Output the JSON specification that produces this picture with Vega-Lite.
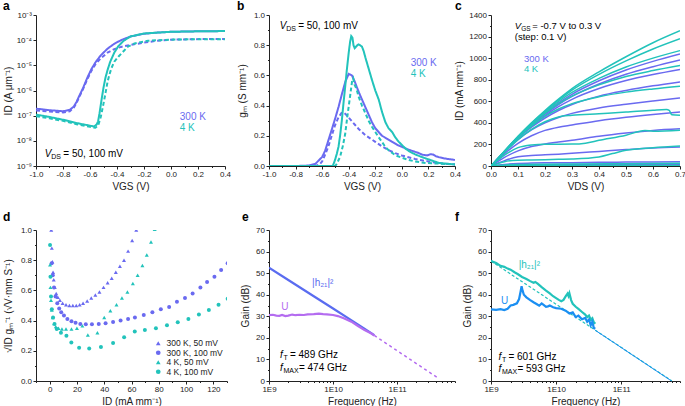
{
"$schema": "https://vega.github.io/schema/vega-lite/v6.json",
"background": "white",
"padding": {"left": 3, "top": 0, "right": 5, "bottom": 5},
"config": {
  "view": {"stroke": null},
  "font": "Liberation Sans",
  "axis": {"labelFont": "Liberation Sans", "labelFontSize": 8, "labelColor": "#222", "titleFont": "Liberation Sans", "titleFontSize": 10, "titleFontWeight": "normal", "titleColor": "#222", "domainColor": "#222", "tickColor": "#222", "grid": false, "labelFlush": false, "labelOverlap": false, "labelPadding": 1.5, "tickSize": 3, "titlePadding": 3},
  "title": {"font": "Liberation Sans", "fontSize": 12, "fontWeight": "bold", "anchor": "start", "frame": "group", "offset": -2, "color": "black"},
  "text": {"font": "Liberation Sans", "fontSize": 10, "align": "left", "baseline": "middle"}
},
"datasets": {
  "a": [
    {"t":"300 K","d":"100","v":-1,"i":1.9e-7},{"t":"300 K","d":"100","v":-0.9,"i":1.65e-7},{"t":"300 K","d":"100","v":-0.8,"i":1.5e-7},{"t":"300 K","d":"100","v":-0.75,"i":1.7e-7},{"t":"300 K","d":"100","v":-0.72,"i":2.3e-7},{"t":"300 K","d":"100","v":-0.7,"i":3.5e-7},{"t":"300 K","d":"100","v":-0.68,"i":6e-7},{"t":"300 K","d":"100","v":-0.65,"i":1.3e-6},{"t":"300 K","d":"100","v":-0.62,"i":3.2e-6},{"t":"300 K","d":"100","v":-0.59,"i":7e-6},{"t":"300 K","d":"100","v":-0.56,"i":1.3e-5},{"t":"300 K","d":"100","v":-0.52,"i":2.5e-5},{"t":"300 K","d":"100","v":-0.47,"i":4.6e-5},{"t":"300 K","d":"100","v":-0.42,"i":7.2e-5},{"t":"300 K","d":"100","v":-0.37,"i":1.0e-4},{"t":"300 K","d":"100","v":-0.3,"i":1.4e-4},{"t":"300 K","d":"100","v":-0.2,"i":1.8e-4},{"t":"300 K","d":"100","v":-0.1,"i":2.0e-4},{"t":"300 K","d":"100","v":0,"i":2.15e-4},{"t":"300 K","d":"100","v":0.2,"i":2.25e-4},{"t":"300 K","d":"100","v":0.4,"i":2.3e-4},
    {"t":"300 K","d":"50","v":-1,"i":1.6e-7},{"t":"300 K","d":"50","v":-0.9,"i":1.45e-7},{"t":"300 K","d":"50","v":-0.8,"i":1.35e-7},{"t":"300 K","d":"50","v":-0.75,"i":1.5e-7},{"t":"300 K","d":"50","v":-0.72,"i":2.1e-7},{"t":"300 K","d":"50","v":-0.7,"i":3.2e-7},{"t":"300 K","d":"50","v":-0.68,"i":5.5e-7},{"t":"300 K","d":"50","v":-0.65,"i":1.2e-6},{"t":"300 K","d":"50","v":-0.62,"i":2.8e-6},{"t":"300 K","d":"50","v":-0.59,"i":6e-6},{"t":"300 K","d":"50","v":-0.56,"i":1.1e-5},{"t":"300 K","d":"50","v":-0.52,"i":1.9e-5},{"t":"300 K","d":"50","v":-0.47,"i":3.2e-5},{"t":"300 K","d":"50","v":-0.42,"i":4.4e-5},{"t":"300 K","d":"50","v":-0.37,"i":5.4e-5},{"t":"300 K","d":"50","v":-0.3,"i":6.5e-5},{"t":"300 K","d":"50","v":-0.2,"i":8e-5},{"t":"300 K","d":"50","v":-0.1,"i":9.5e-5},{"t":"300 K","d":"50","v":0,"i":1.05e-4},{"t":"300 K","d":"50","v":0.2,"i":1.1e-4},{"t":"300 K","d":"50","v":0.4,"i":1.12e-4},
    {"t":"4 K","d":"100","v":-1,"i":1.1e-7},{"t":"4 K","d":"100","v":-0.9,"i":8.9e-8},{"t":"4 K","d":"100","v":-0.8,"i":6.9e-8},{"t":"4 K","d":"100","v":-0.7,"i":5.1e-8},{"t":"4 K","d":"100","v":-0.6,"i":4.0e-8},{"t":"4 K","d":"100","v":-0.57,"i":3.7e-8},{"t":"4 K","d":"100","v":-0.55,"i":4.5e-8},{"t":"4 K","d":"100","v":-0.54,"i":6e-8},{"t":"4 K","d":"100","v":-0.53,"i":1.2e-7},{"t":"4 K","d":"100","v":-0.515,"i":4.1e-7},{"t":"4 K","d":"100","v":-0.5,"i":1.3e-6},{"t":"4 K","d":"100","v":-0.485,"i":3.3e-6},{"t":"4 K","d":"100","v":-0.47,"i":6.5e-6},{"t":"4 K","d":"100","v":-0.45,"i":1.4e-5},{"t":"4 K","d":"100","v":-0.42,"i":3.2e-5},{"t":"4 K","d":"100","v":-0.39,"i":5.8e-5},{"t":"4 K","d":"100","v":-0.35,"i":9.5e-5},{"t":"4 K","d":"100","v":-0.3,"i":1.4e-4},{"t":"4 K","d":"100","v":-0.2,"i":1.85e-4},{"t":"4 K","d":"100","v":-0.1,"i":2.0e-4},{"t":"4 K","d":"100","v":0,"i":2.15e-4},{"t":"4 K","d":"100","v":0.2,"i":2.25e-4},{"t":"4 K","d":"100","v":0.4,"i":2.3e-4},
    {"t":"4 K","d":"50","v":-1,"i":9.5e-8},{"t":"4 K","d":"50","v":-0.9,"i":7.8e-8},{"t":"4 K","d":"50","v":-0.8,"i":6.2e-8},{"t":"4 K","d":"50","v":-0.7,"i":4.6e-8},{"t":"4 K","d":"50","v":-0.6,"i":3.6e-8},{"t":"4 K","d":"50","v":-0.56,"i":3.3e-8},{"t":"4 K","d":"50","v":-0.54,"i":4e-8},{"t":"4 K","d":"50","v":-0.52,"i":9e-8},{"t":"4 K","d":"50","v":-0.5,"i":3e-7},{"t":"4 K","d":"50","v":-0.485,"i":8e-7},{"t":"4 K","d":"50","v":-0.47,"i":2.2e-6},{"t":"4 K","d":"50","v":-0.455,"i":4.5e-6},{"t":"4 K","d":"50","v":-0.44,"i":8e-6},{"t":"4 K","d":"50","v":-0.42,"i":1.4e-5},{"t":"4 K","d":"50","v":-0.39,"i":2.2e-5},{"t":"4 K","d":"50","v":-0.35,"i":3.7e-5},{"t":"4 K","d":"50","v":-0.32,"i":5.5e-5},{"t":"4 K","d":"50","v":-0.27,"i":7.4e-5},{"t":"4 K","d":"50","v":-0.17,"i":9.5e-5},{"t":"4 K","d":"50","v":0,"i":1.05e-4},{"t":"4 K","d":"50","v":0.2,"i":1.09e-4},{"t":"4 K","d":"50","v":0.4,"i":1.1e-4}
  ],
  "b": [
    {"t":"300 K","d":"100","v":-1,"g":0},{"t":"300 K","d":"100","v":-0.8,"g":0},{"t":"300 K","d":"100","v":-0.7,"g":0.003},{"t":"300 K","d":"100","v":-0.65,"g":0.015},{"t":"300 K","d":"100","v":-0.6,"g":0.06},{"t":"300 K","d":"100","v":-0.578,"g":0.1},{"t":"300 K","d":"100","v":-0.553,"g":0.17},{"t":"300 K","d":"100","v":-0.528,"g":0.24},{"t":"300 K","d":"100","v":-0.5,"g":0.32},{"t":"300 K","d":"100","v":-0.477,"g":0.39},{"t":"300 K","d":"100","v":-0.45,"g":0.48},{"t":"300 K","d":"100","v":-0.425,"g":0.56},{"t":"300 K","d":"100","v":-0.4,"g":0.61},{"t":"300 K","d":"100","v":-0.376,"g":0.6},{"t":"300 K","d":"100","v":-0.355,"g":0.56},{"t":"300 K","d":"100","v":-0.338,"g":0.52},{"t":"300 K","d":"100","v":-0.32,"g":0.48},{"t":"300 K","d":"100","v":-0.3,"g":0.44},{"t":"300 K","d":"100","v":-0.275,"g":0.39},{"t":"300 K","d":"100","v":-0.25,"g":0.34},{"t":"300 K","d":"100","v":-0.225,"g":0.29},{"t":"300 K","d":"100","v":-0.2,"g":0.25},{"t":"300 K","d":"100","v":-0.17,"g":0.22},{"t":"300 K","d":"100","v":-0.149,"g":0.2},{"t":"300 K","d":"100","v":-0.11,"g":0.18},{"t":"300 K","d":"100","v":-0.073,"g":0.16},{"t":"300 K","d":"100","v":-0.035,"g":0.14},{"t":"300 K","d":"100","v":0.003,"g":0.126},{"t":"300 K","d":"100","v":0.04,"g":0.112},{"t":"300 K","d":"100","v":0.078,"g":0.1},{"t":"300 K","d":"100","v":0.12,"g":0.088},{"t":"300 K","d":"100","v":0.154,"g":0.075},{"t":"300 K","d":"100","v":0.19,"g":0.07},{"t":"300 K","d":"100","v":0.215,"g":0.078},{"t":"300 K","d":"100","v":0.235,"g":0.076},{"t":"300 K","d":"100","v":0.255,"g":0.065},{"t":"300 K","d":"100","v":0.28,"g":0.058},{"t":"300 K","d":"100","v":0.32,"g":0.05},{"t":"300 K","d":"100","v":0.36,"g":0.045},{"t":"300 K","d":"100","v":0.4,"g":0.04},
    {"t":"300 K","d":"50","v":-1,"g":0},{"t":"300 K","d":"50","v":-0.65,"g":0},{"t":"300 K","d":"50","v":-0.62,"g":0.01},{"t":"300 K","d":"50","v":-0.6,"g":0.03},{"t":"300 K","d":"50","v":-0.58,"g":0.07},{"t":"300 K","d":"50","v":-0.553,"g":0.13},{"t":"300 K","d":"50","v":-0.528,"g":0.2},{"t":"300 K","d":"50","v":-0.503,"g":0.27},{"t":"300 K","d":"50","v":-0.478,"g":0.32},{"t":"300 K","d":"50","v":-0.455,"g":0.35},{"t":"300 K","d":"50","v":-0.44,"g":0.355},{"t":"300 K","d":"50","v":-0.425,"g":0.345},{"t":"300 K","d":"50","v":-0.4,"g":0.32},{"t":"300 K","d":"50","v":-0.375,"g":0.295},{"t":"300 K","d":"50","v":-0.35,"g":0.27},{"t":"300 K","d":"50","v":-0.325,"g":0.245},{"t":"300 K","d":"50","v":-0.3,"g":0.225},{"t":"300 K","d":"50","v":-0.275,"g":0.205},{"t":"300 K","d":"50","v":-0.25,"g":0.19},{"t":"300 K","d":"50","v":-0.2,"g":0.16},{"t":"300 K","d":"50","v":-0.15,"g":0.13},{"t":"300 K","d":"50","v":-0.1,"g":0.105},{"t":"300 K","d":"50","v":-0.05,"g":0.085},{"t":"300 K","d":"50","v":0,"g":0.07},{"t":"300 K","d":"50","v":0.05,"g":0.058},{"t":"300 K","d":"50","v":0.1,"g":0.047},{"t":"300 K","d":"50","v":0.15,"g":0.038},{"t":"300 K","d":"50","v":0.2,"g":0.03},{"t":"300 K","d":"50","v":0.25,"g":0.023},{"t":"300 K","d":"50","v":0.3,"g":0.018},{"t":"300 K","d":"50","v":0.35,"g":0.014},{"t":"300 K","d":"50","v":0.4,"g":0.011},
    {"t":"4 K","d":"100","v":-1,"g":0},{"t":"4 K","d":"100","v":-0.52,"g":0},{"t":"4 K","d":"100","v":-0.503,"g":0.04},{"t":"4 K","d":"100","v":-0.49,"g":0.08},{"t":"4 K","d":"100","v":-0.477,"g":0.126},{"t":"4 K","d":"100","v":-0.465,"g":0.2},{"t":"4 K","d":"100","v":-0.452,"g":0.3},{"t":"4 K","d":"100","v":-0.44,"g":0.41},{"t":"4 K","d":"100","v":-0.427,"g":0.52},{"t":"4 K","d":"100","v":-0.415,"g":0.63},{"t":"4 K","d":"100","v":-0.4,"g":0.75},{"t":"4 K","d":"100","v":-0.39,"g":0.82},{"t":"4 K","d":"100","v":-0.381,"g":0.86},{"t":"4 K","d":"100","v":-0.372,"g":0.85},{"t":"4 K","d":"100","v":-0.364,"g":0.8},{"t":"4 K","d":"100","v":-0.355,"g":0.78},{"t":"4 K","d":"100","v":-0.345,"g":0.79},{"t":"4 K","d":"100","v":-0.335,"g":0.8},{"t":"4 K","d":"100","v":-0.326,"g":0.805},{"t":"4 K","d":"100","v":-0.315,"g":0.8},{"t":"4 K","d":"100","v":-0.3,"g":0.79},{"t":"4 K","d":"100","v":-0.287,"g":0.76},{"t":"4 K","d":"100","v":-0.275,"g":0.72},{"t":"4 K","d":"100","v":-0.25,"g":0.645},{"t":"4 K","d":"100","v":-0.225,"g":0.57},{"t":"4 K","d":"100","v":-0.2,"g":0.5},{"t":"4 K","d":"100","v":-0.174,"g":0.44},{"t":"4 K","d":"100","v":-0.15,"g":0.36},{"t":"4 K","d":"100","v":-0.124,"g":0.29},{"t":"4 K","d":"100","v":-0.1,"g":0.25},{"t":"4 K","d":"100","v":-0.073,"g":0.225},{"t":"4 K","d":"100","v":-0.05,"g":0.19},{"t":"4 K","d":"100","v":-0.023,"g":0.16},{"t":"4 K","d":"100","v":0.028,"g":0.115},{"t":"4 K","d":"100","v":0.06,"g":0.095},{"t":"4 K","d":"100","v":0.1,"g":0.077},{"t":"4 K","d":"100","v":0.14,"g":0.063},{"t":"4 K","d":"100","v":0.18,"g":0.05},{"t":"4 K","d":"100","v":0.23,"g":0.035},{"t":"4 K","d":"100","v":0.28,"g":0.02},{"t":"4 K","d":"100","v":0.34,"g":0.015},{"t":"4 K","d":"100","v":0.4,"g":0.01},
    {"t":"4 K","d":"50","v":-1,"g":0},{"t":"4 K","d":"50","v":-0.5,"g":0},{"t":"4 K","d":"50","v":-0.49,"g":0.015},{"t":"4 K","d":"50","v":-0.465,"g":0.06},{"t":"4 K","d":"50","v":-0.445,"g":0.13},{"t":"4 K","d":"50","v":-0.427,"g":0.21},{"t":"4 K","d":"50","v":-0.41,"g":0.33},{"t":"4 K","d":"50","v":-0.39,"g":0.46},{"t":"4 K","d":"50","v":-0.375,"g":0.56},{"t":"4 K","d":"50","v":-0.366,"g":0.58},{"t":"4 K","d":"50","v":-0.357,"g":0.54},{"t":"4 K","d":"50","v":-0.346,"g":0.52},{"t":"4 K","d":"50","v":-0.335,"g":0.49},{"t":"4 K","d":"50","v":-0.326,"g":0.46},{"t":"4 K","d":"50","v":-0.3,"g":0.4},{"t":"4 K","d":"50","v":-0.275,"g":0.35},{"t":"4 K","d":"50","v":-0.25,"g":0.3},{"t":"4 K","d":"50","v":-0.225,"g":0.26},{"t":"4 K","d":"50","v":-0.2,"g":0.225},{"t":"4 K","d":"50","v":-0.174,"g":0.19},{"t":"4 K","d":"50","v":-0.15,"g":0.16},{"t":"4 K","d":"50","v":-0.124,"g":0.126},{"t":"4 K","d":"50","v":-0.1,"g":0.105},{"t":"4 K","d":"50","v":-0.048,"g":0.07},{"t":"4 K","d":"50","v":0,"g":0.055},{"t":"4 K","d":"50","v":0.053,"g":0.04},{"t":"4 K","d":"50","v":0.1,"g":0.03},{"t":"4 K","d":"50","v":0.18,"g":0.02},{"t":"4 K","d":"50","v":0.3,"g":0.015},{"t":"4 K","d":"50","v":0.4,"g":0.01}
  ],
  "c": [
    {"s":"B3","t":"300 K","x":0,"y":0},{"s":"B3","t":"300 K","x":0.05,"y":135},{"s":"B3","t":"300 K","x":0.1,"y":268},{"s":"B3","t":"300 K","x":0.15,"y":385},{"s":"B3","t":"300 K","x":0.2,"y":490},{"s":"B3","t":"300 K","x":0.25,"y":585},{"s":"B3","t":"300 K","x":0.3,"y":665},{"s":"B3","t":"300 K","x":0.4,"y":790},{"s":"B3","t":"300 K","x":0.5,"y":890},{"s":"B3","t":"300 K","x":0.6,"y":970},{"s":"B3","t":"300 K","x":0.7,"y":1038},
    {"s":"B2","t":"300 K","x":0,"y":0},{"s":"B2","t":"300 K","x":0.05,"y":134},{"s":"B2","t":"300 K","x":0.1,"y":265},{"s":"B2","t":"300 K","x":0.15,"y":380},{"s":"B2","t":"300 K","x":0.2,"y":480},{"s":"B2","t":"300 K","x":0.25,"y":570},{"s":"B2","t":"300 K","x":0.3,"y":645},{"s":"B2","t":"300 K","x":0.4,"y":760},{"s":"B2","t":"300 K","x":0.5,"y":850},{"s":"B2","t":"300 K","x":0.6,"y":920},{"s":"B2","t":"300 K","x":0.7,"y":982},
    {"s":"B1","t":"300 K","x":0,"y":0},{"s":"B1","t":"300 K","x":0.05,"y":133},{"s":"B1","t":"300 K","x":0.1,"y":262},{"s":"B1","t":"300 K","x":0.15,"y":372},{"s":"B1","t":"300 K","x":0.2,"y":468},{"s":"B1","t":"300 K","x":0.25,"y":550},{"s":"B1","t":"300 K","x":0.3,"y":618},{"s":"B1","t":"300 K","x":0.4,"y":718},{"s":"B1","t":"300 K","x":0.5,"y":792},{"s":"B1","t":"300 K","x":0.6,"y":848},{"s":"B1","t":"300 K","x":0.7,"y":895},
    {"s":"B0","t":"300 K","x":0,"y":0},{"s":"B0","t":"300 K","x":0.05,"y":132},{"s":"B0","t":"300 K","x":0.1,"y":257},{"s":"B0","t":"300 K","x":0.15,"y":360},{"s":"B0","t":"300 K","x":0.2,"y":445},{"s":"B0","t":"300 K","x":0.25,"y":515},{"s":"B0","t":"300 K","x":0.3,"y":570},{"s":"B0","t":"300 K","x":0.4,"y":648},{"s":"B0","t":"300 K","x":0.5,"y":700},{"s":"B0","t":"300 K","x":0.6,"y":743},{"s":"B0","t":"300 K","x":0.7,"y":780},
    {"s":"Bm1","t":"300 K","x":0,"y":0},{"s":"Bm1","t":"300 K","x":0.05,"y":128},{"s":"Bm1","t":"300 K","x":0.1,"y":245},{"s":"Bm1","t":"300 K","x":0.15,"y":335},{"s":"Bm1","t":"300 K","x":0.2,"y":400},{"s":"Bm1","t":"300 K","x":0.25,"y":450},{"s":"Bm1","t":"300 K","x":0.3,"y":488},{"s":"Bm1","t":"300 K","x":0.4,"y":538},{"s":"Bm1","t":"300 K","x":0.5,"y":572},{"s":"Bm1","t":"300 K","x":0.6,"y":602},{"s":"Bm1","t":"300 K","x":0.7,"y":630},
    {"s":"Bm2","t":"300 K","x":0,"y":0},{"s":"Bm2","t":"300 K","x":0.05,"y":115},{"s":"Bm2","t":"300 K","x":0.1,"y":210},{"s":"Bm2","t":"300 K","x":0.15,"y":280},{"s":"Bm2","t":"300 K","x":0.2,"y":330},{"s":"Bm2","t":"300 K","x":0.25,"y":360},{"s":"Bm2","t":"300 K","x":0.3,"y":380},{"s":"Bm2","t":"300 K","x":0.4,"y":420},{"s":"Bm2","t":"300 K","x":0.5,"y":452},{"s":"Bm2","t":"300 K","x":0.6,"y":478},{"s":"Bm2","t":"300 K","x":0.7,"y":500},
    {"s":"Bm3","t":"300 K","x":0,"y":0},{"s":"Bm3","t":"300 K","x":0.05,"y":80},{"s":"Bm3","t":"300 K","x":0.1,"y":140},{"s":"Bm3","t":"300 K","x":0.15,"y":180},{"s":"Bm3","t":"300 K","x":0.2,"y":205},{"s":"Bm3","t":"300 K","x":0.25,"y":222},{"s":"Bm3","t":"300 K","x":0.3,"y":238},{"s":"Bm3","t":"300 K","x":0.4,"y":275},{"s":"Bm3","t":"300 K","x":0.5,"y":305},{"s":"Bm3","t":"300 K","x":0.6,"y":330},{"s":"Bm3","t":"300 K","x":0.7,"y":345},
    {"s":"Bm4","t":"300 K","x":0,"y":0},{"s":"Bm4","t":"300 K","x":0.05,"y":50},{"s":"Bm4","t":"300 K","x":0.1,"y":85},{"s":"Bm4","t":"300 K","x":0.15,"y":97},{"s":"Bm4","t":"300 K","x":0.2,"y":104},{"s":"Bm4","t":"300 K","x":0.25,"y":110},{"s":"Bm4","t":"300 K","x":0.3,"y":118},{"s":"Bm4","t":"300 K","x":0.4,"y":135},{"s":"Bm4","t":"300 K","x":0.5,"y":152},{"s":"Bm4","t":"300 K","x":0.6,"y":167},{"s":"Bm4","t":"300 K","x":0.7,"y":177},
    {"s":"Bm5","t":"300 K","x":0,"y":0},{"s":"Bm5","t":"300 K","x":0.05,"y":15},{"s":"Bm5","t":"300 K","x":0.1,"y":24},{"s":"Bm5","t":"300 K","x":0.15,"y":27},{"s":"Bm5","t":"300 K","x":0.2,"y":29},{"s":"Bm5","t":"300 K","x":0.25,"y":30},{"s":"Bm5","t":"300 K","x":0.3,"y":31},{"s":"Bm5","t":"300 K","x":0.4,"y":34},{"s":"Bm5","t":"300 K","x":0.5,"y":36},{"s":"Bm5","t":"300 K","x":0.6,"y":38},{"s":"Bm5","t":"300 K","x":0.7,"y":40},
    {"s":"Bm6","t":"300 K","x":0,"y":0},{"s":"Bm6","t":"300 K","x":0.05,"y":5},{"s":"Bm6","t":"300 K","x":0.1,"y":8},{"s":"Bm6","t":"300 K","x":0.2,"y":10},{"s":"Bm6","t":"300 K","x":0.4,"y":11},{"s":"Bm6","t":"300 K","x":0.7,"y":13},
    {"s":"Bm7","t":"300 K","x":0,"y":0},{"s":"Bm7","t":"300 K","x":0.1,"y":2},{"s":"Bm7","t":"300 K","x":0.3,"y":3},{"s":"Bm7","t":"300 K","x":0.7,"y":4},
    {"s":"T3","t":"4 K","x":0,"y":0},{"s":"T3","t":"4 K","x":0.05,"y":138},{"s":"T3","t":"4 K","x":0.1,"y":275},{"s":"T3","t":"4 K","x":0.15,"y":400},{"s":"T3","t":"4 K","x":0.2,"y":515},{"s":"T3","t":"4 K","x":0.25,"y":620},{"s":"T3","t":"4 K","x":0.3,"y":718},{"s":"T3","t":"4 K","x":0.4,"y":873},{"s":"T3","t":"4 K","x":0.5,"y":1013},{"s":"T3","t":"4 K","x":0.6,"y":1143},{"s":"T3","t":"4 K","x":0.7,"y":1254},
    {"s":"T2","t":"4 K","x":0,"y":0},{"s":"T2","t":"4 K","x":0.05,"y":137},{"s":"T2","t":"4 K","x":0.1,"y":272},{"s":"T2","t":"4 K","x":0.15,"y":395},{"s":"T2","t":"4 K","x":0.2,"y":508},{"s":"T2","t":"4 K","x":0.25,"y":610},{"s":"T2","t":"4 K","x":0.3,"y":703},{"s":"T2","t":"4 K","x":0.4,"y":850},{"s":"T2","t":"4 K","x":0.5,"y":975},{"s":"T2","t":"4 K","x":0.6,"y":1085},{"s":"T2","t":"4 K","x":0.7,"y":1180},
    {"s":"T1","t":"4 K","x":0,"y":0},{"s":"T1","t":"4 K","x":0.05,"y":136},{"s":"T1","t":"4 K","x":0.1,"y":270},{"s":"T1","t":"4 K","x":0.15,"y":390},{"s":"T1","t":"4 K","x":0.2,"y":500},{"s":"T1","t":"4 K","x":0.25,"y":598},{"s":"T1","t":"4 K","x":0.3,"y":682},{"s":"T1","t":"4 K","x":0.4,"y":812},{"s":"T1","t":"4 K","x":0.5,"y":918},{"s":"T1","t":"4 K","x":0.6,"y":1000},{"s":"T1","t":"4 K","x":0.7,"y":1070},
    {"s":"T0","t":"4 K","x":0,"y":0},{"s":"T0","t":"4 K","x":0.05,"y":135},{"s":"T0","t":"4 K","x":0.1,"y":267},{"s":"T0","t":"4 K","x":0.15,"y":383},{"s":"T0","t":"4 K","x":0.2,"y":488},{"s":"T0","t":"4 K","x":0.25,"y":577},{"s":"T0","t":"4 K","x":0.3,"y":648},{"s":"T0","t":"4 K","x":0.4,"y":752},{"s":"T0","t":"4 K","x":0.5,"y":830},{"s":"T0","t":"4 K","x":0.6,"y":885},{"s":"T0","t":"4 K","x":0.7,"y":932},
    {"s":"Tm1","t":"4 K","x":0,"y":0},{"s":"Tm1","t":"4 K","x":0.05,"y":133},{"s":"Tm1","t":"4 K","x":0.1,"y":262},{"s":"Tm1","t":"4 K","x":0.15,"y":370},{"s":"Tm1","t":"4 K","x":0.2,"y":460},{"s":"Tm1","t":"4 K","x":0.25,"y":528},{"s":"Tm1","t":"4 K","x":0.3,"y":578},{"s":"Tm1","t":"4 K","x":0.4,"y":642},{"s":"Tm1","t":"4 K","x":0.5,"y":685},{"s":"Tm1","t":"4 K","x":0.6,"y":715},{"s":"Tm1","t":"4 K","x":0.7,"y":740},
    {"s":"Tm2","t":"4 K","x":0,"y":0},{"s":"Tm2","t":"4 K","x":0.05,"y":128},{"s":"Tm2","t":"4 K","x":0.1,"y":245},{"s":"Tm2","t":"4 K","x":0.15,"y":340},{"s":"Tm2","t":"4 K","x":0.2,"y":410},{"s":"Tm2","t":"4 K","x":0.25,"y":455},{"s":"Tm2","t":"4 K","x":0.3,"y":470},{"s":"Tm2","t":"4 K","x":0.4,"y":485},{"s":"Tm2","t":"4 K","x":0.5,"y":500},{"s":"Tm2","t":"4 K","x":0.6,"y":517},{"s":"Tm2","t":"4 K","x":0.65,"y":523},{"s":"Tm2","t":"4 K","x":0.66,"y":515},{"s":"Tm2","t":"4 K","x":0.67,"y":475},{"s":"Tm2","t":"4 K","x":0.7,"y":470},
    {"s":"Tm3","t":"4 K","x":0,"y":0},{"s":"Tm3","t":"4 K","x":0.05,"y":100},{"s":"Tm3","t":"4 K","x":0.1,"y":170},{"s":"Tm3","t":"4 K","x":0.15,"y":195},{"s":"Tm3","t":"4 K","x":0.2,"y":202},{"s":"Tm3","t":"4 K","x":0.25,"y":202},{"s":"Tm3","t":"4 K","x":0.3,"y":203},{"s":"Tm3","t":"4 K","x":0.35,"y":212},{"s":"Tm3","t":"4 K","x":0.4,"y":238},{"s":"Tm3","t":"4 K","x":0.5,"y":285},{"s":"Tm3","t":"4 K","x":0.57,"y":330},{"s":"Tm3","t":"4 K","x":0.6,"y":322},{"s":"Tm3","t":"4 K","x":0.7,"y":332},
    {"s":"Tm4","t":"4 K","x":0,"y":0},{"s":"Tm4","t":"4 K","x":0.05,"y":40},{"s":"Tm4","t":"4 K","x":0.1,"y":53},{"s":"Tm4","t":"4 K","x":0.15,"y":56},{"s":"Tm4","t":"4 K","x":0.2,"y":59},{"s":"Tm4","t":"4 K","x":0.25,"y":62},{"s":"Tm4","t":"4 K","x":0.3,"y":65},{"s":"Tm4","t":"4 K","x":0.4,"y":84},{"s":"Tm4","t":"4 K","x":0.45,"y":115},{"s":"Tm4","t":"4 K","x":0.5,"y":146},{"s":"Tm4","t":"4 K","x":0.6,"y":170},{"s":"Tm4","t":"4 K","x":0.7,"y":186},
    {"s":"Tm5","t":"4 K","x":0,"y":0},{"s":"Tm5","t":"4 K","x":0.05,"y":10},{"s":"Tm5","t":"4 K","x":0.1,"y":14},{"s":"Tm5","t":"4 K","x":0.2,"y":17},{"s":"Tm5","t":"4 K","x":0.3,"y":19},{"s":"Tm5","t":"4 K","x":0.5,"y":22},{"s":"Tm5","t":"4 K","x":0.7,"y":25},
    {"s":"Tm6","t":"4 K","x":0,"y":0},{"s":"Tm6","t":"4 K","x":0.1,"y":3},{"s":"Tm6","t":"4 K","x":0.4,"y":4},{"s":"Tm6","t":"4 K","x":0.7,"y":5},
    {"s":"Tm7","t":"4 K","x":0,"y":0},{"s":"Tm7","t":"4 K","x":0.2,"y":0.5},{"s":"Tm7","t":"4 K","x":0.7,"y":1}
  ],
  "d": [
    {"s":"300 K, 50 mV","x":1.2,"y":1.0},{"s":"300 K, 50 mV","x":1.6,"y":0.88},{"s":"300 K, 50 mV","x":2.0,"y":0.79},{"s":"300 K, 50 mV","x":2.5,"y":0.72},{"s":"300 K, 50 mV","x":3.0,"y":0.67},{"s":"300 K, 50 mV","x":3.8,"y":0.62},{"s":"300 K, 50 mV","x":4.8,"y":0.58},{"s":"300 K, 50 mV","x":6,"y":0.555},{"s":"300 K, 50 mV","x":7.5,"y":0.535},{"s":"300 K, 50 mV","x":9.5,"y":0.515},{"s":"300 K, 50 mV","x":12,"y":0.505},{"s":"300 K, 50 mV","x":14.5,"y":0.5},{"s":"300 K, 50 mV","x":17,"y":0.5},{"s":"300 K, 50 mV","x":19.5,"y":0.5},{"s":"300 K, 50 mV","x":22,"y":0.505},{"s":"300 K, 50 mV","x":24.5,"y":0.515},{"s":"300 K, 50 mV","x":27.5,"y":0.53},{"s":"300 K, 50 mV","x":30.5,"y":0.55},{"s":"300 K, 50 mV","x":33.5,"y":0.57},{"s":"300 K, 50 mV","x":36.5,"y":0.59},{"s":"300 K, 50 mV","x":39.5,"y":0.62},{"s":"300 K, 50 mV","x":42.5,"y":0.65},{"s":"300 K, 50 mV","x":45.5,"y":0.68},{"s":"300 K, 50 mV","x":48.5,"y":0.72},{"s":"300 K, 50 mV","x":51.5,"y":0.76},{"s":"300 K, 50 mV","x":54.5,"y":0.8},{"s":"300 K, 50 mV","x":57.5,"y":0.86},{"s":"300 K, 50 mV","x":60.5,"y":0.93},{"s":"300 K, 50 mV","x":63.5,"y":1.0},
    {"s":"300 K, 100 mV","x":1.5,"y":0.78},{"s":"300 K, 100 mV","x":2.3,"y":0.7},{"s":"300 K, 100 mV","x":3.2,"y":0.62},{"s":"300 K, 100 mV","x":4.3,"y":0.56},{"s":"300 K, 100 mV","x":5.6,"y":0.515},{"s":"300 K, 100 mV","x":7,"y":0.48},{"s":"300 K, 100 mV","x":8.5,"y":0.455},{"s":"300 K, 100 mV","x":10.5,"y":0.433},{"s":"300 K, 100 mV","x":13,"y":0.41},{"s":"300 K, 100 mV","x":16,"y":0.395},{"s":"300 K, 100 mV","x":19,"y":0.385},{"s":"300 K, 100 mV","x":22.5,"y":0.378},{"s":"300 K, 100 mV","x":26.5,"y":0.376},{"s":"300 K, 100 mV","x":31,"y":0.376},{"s":"300 K, 100 mV","x":36,"y":0.378},{"s":"300 K, 100 mV","x":41,"y":0.382},{"s":"300 K, 100 mV","x":46.5,"y":0.39},{"s":"300 K, 100 mV","x":52,"y":0.4},{"s":"300 K, 100 mV","x":57.5,"y":0.41},{"s":"300 K, 100 mV","x":62.5,"y":0.42},{"s":"300 K, 100 mV","x":69,"y":0.437},{"s":"300 K, 100 mV","x":75.3,"y":0.455},{"s":"300 K, 100 mV","x":81.5,"y":0.475},{"s":"300 K, 100 mV","x":87.6,"y":0.49},{"s":"300 K, 100 mV","x":93.3,"y":0.525},{"s":"300 K, 100 mV","x":99.2,"y":0.55},{"s":"300 K, 100 mV","x":104.8,"y":0.58},{"s":"300 K, 100 mV","x":110.5,"y":0.62},{"s":"300 K, 100 mV","x":115.4,"y":0.655},{"s":"300 K, 100 mV","x":120.8,"y":0.69},{"s":"300 K, 100 mV","x":125.7,"y":0.735},{"s":"300 K, 100 mV","x":130.5,"y":0.78},
    {"s":"4 K, 50 mV","x":0.3,"y":0.77},{"s":"4 K, 50 mV","x":0.6,"y":0.62},{"s":"4 K, 50 mV","x":1.0,"y":0.535},{"s":"4 K, 50 mV","x":1.6,"y":0.47},{"s":"4 K, 50 mV","x":2.3,"y":0.42},{"s":"4 K, 50 mV","x":3.2,"y":0.38},{"s":"4 K, 50 mV","x":4.5,"y":0.36},{"s":"4 K, 50 mV","x":6.5,"y":0.35},{"s":"4 K, 50 mV","x":9,"y":0.345},{"s":"4 K, 50 mV","x":12,"y":0.345},{"s":"4 K, 50 mV","x":16,"y":0.345},{"s":"4 K, 50 mV","x":20,"y":0.35},{"s":"4 K, 50 mV","x":24,"y":0.365},{"s":"4 K, 50 mV","x":28,"y":0.305},{"s":"4 K, 50 mV","x":35,"y":0.32},{"s":"4 K, 50 mV","x":40,"y":0.42},{"s":"4 K, 50 mV","x":44.5,"y":0.465},{"s":"4 K, 50 mV","x":49,"y":0.505},{"s":"4 K, 50 mV","x":53,"y":0.55},{"s":"4 K, 50 mV","x":57,"y":0.59},{"s":"4 K, 50 mV","x":61,"y":0.645},{"s":"4 K, 50 mV","x":64.5,"y":0.7},{"s":"4 K, 50 mV","x":68,"y":0.765},{"s":"4 K, 50 mV","x":71.2,"y":0.835},{"s":"4 K, 50 mV","x":74.3,"y":0.92},{"s":"4 K, 50 mV","x":77,"y":1.005},
    {"s":"4 K, 100 mV","x":0.3,"y":0.9},{"s":"4 K, 100 mV","x":0.6,"y":0.69},{"s":"4 K, 100 mV","x":1.0,"y":0.56},{"s":"4 K, 100 mV","x":1.6,"y":0.475},{"s":"4 K, 100 mV","x":2.5,"y":0.42},{"s":"4 K, 100 mV","x":3.6,"y":0.378},{"s":"4 K, 100 mV","x":5.2,"y":0.345},{"s":"4 K, 100 mV","x":8.3,"y":0.32},{"s":"4 K, 100 mV","x":12.3,"y":0.3},{"s":"4 K, 100 mV","x":15.9,"y":0.255},{"s":"4 K, 100 mV","x":21.6,"y":0.22},{"s":"4 K, 100 mV","x":29,"y":0.215},{"s":"4 K, 100 mV","x":37.6,"y":0.225},{"s":"4 K, 100 mV","x":46.5,"y":0.252},{"s":"4 K, 100 mV","x":54.6,"y":0.29},{"s":"4 K, 100 mV","x":62.4,"y":0.327},{"s":"4 K, 100 mV","x":69.8,"y":0.338},{"s":"4 K, 100 mV","x":77.9,"y":0.35},{"s":"4 K, 100 mV","x":86,"y":0.37},{"s":"4 K, 100 mV","x":93.9,"y":0.389},{"s":"4 K, 100 mV","x":101.7,"y":0.41},{"s":"4 K, 100 mV","x":109.4,"y":0.44},{"s":"4 K, 100 mV","x":116.7,"y":0.47},{"s":"4 K, 100 mV","x":123.8,"y":0.505},{"s":"4 K, 100 mV","x":130.5,"y":0.545}
  ],
  "e": [
    {"s":"h21","f":1e9,"g":52.5},{"s":"h21","f":2e9,"g":46.8},{"s":"h21","f":5e9,"g":39.3},{"s":"h21","f":1e10,"g":33.6},{"s":"h21","f":2e10,"g":27.9},{"s":"h21","f":3e10,"g":24.5},{"s":"h21","f":4.4e10,"g":21.3},
    {"s":"U","f":1e9,"g":30.5},{"s":"U","f":1.15e9,"g":30.7},{"s":"U","f":1.3e9,"g":30.3},{"s":"U","f":1.45e9,"g":30.2},{"s":"U","f":1.6e9,"g":30.6},{"s":"U","f":1.8e9,"g":30.1},{"s":"U","f":2e9,"g":30.3},{"s":"U","f":2.3e9,"g":30.8},{"s":"U","f":2.6e9,"g":30.5},{"s":"U","f":3e9,"g":30.7},{"s":"U","f":3.5e9,"g":30.6},{"s":"U","f":4e9,"g":30.9},{"s":"U","f":5e9,"g":31.0},{"s":"U","f":6e9,"g":31.2},{"s":"U","f":7e9,"g":31.0},{"s":"U","f":8e9,"g":30.9},{"s":"U","f":1e10,"g":30.6},{"s":"U","f":1.19e10,"g":30.1},{"s":"U","f":1.5e10,"g":29.0},{"s":"U","f":1.93e10,"g":27.5},{"s":"U","f":2.45e10,"g":25.5},{"s":"U","f":3.1e10,"g":23.6},{"s":"U","f":3.9e10,"g":22.1},{"s":"U","f":4.4e10,"g":21.1}
  ],
  "eext": [{"f":4.4e10,"g":21.1},{"f":4.3e11,"g":1.5}],
  "f": [
    {"s":"h21","f":1e9,"g":55.8},{"s":"h21","f":1.1e9,"g":55.1},{"s":"h21","f":1.2e9,"g":54.7},{"s":"h21","f":1.4e9,"g":53.4},{"s":"h21","f":1.6e9,"g":52.9},{"s":"h21","f":1.8e9,"g":52.1},{"s":"h21","f":2e9,"g":51.6},{"s":"h21","f":2.3e9,"g":50.4},{"s":"h21","f":2.6e9,"g":49.5},{"s":"h21","f":3e9,"g":48.2},{"s":"h21","f":3.5e9,"g":47.3},{"s":"h21","f":4e9,"g":46.3},{"s":"h21","f":4.5e9,"g":45.5},{"s":"h21","f":4.8e9,"g":45.9},{"s":"h21","f":5.2e9,"g":45.1},{"s":"h21","f":6e9,"g":43.5},{"s":"h21","f":7e9,"g":41.9},{"s":"h21","f":8e9,"g":40.6},{"s":"h21","f":9e9,"g":39.3},{"s":"h21","f":1e10,"g":38.4},{"s":"h21","f":1.1e10,"g":37.6},{"s":"h21","f":1.2e10,"g":37.0},{"s":"h21","f":1.3e10,"g":37.6},{"s":"h21","f":1.4e10,"g":39.2},{"s":"h21","f":1.5e10,"g":40.5},{"s":"h21","f":1.55e10,"g":39.4},{"s":"h21","f":1.6e10,"g":40.7},{"s":"h21","f":1.7e10,"g":37.5},{"s":"h21","f":1.8e10,"g":35.8},{"s":"h21","f":2e10,"g":34.4},{"s":"h21","f":2.2e10,"g":33.4},{"s":"h21","f":2.5e10,"g":32.0},{"s":"h21","f":2.8e10,"g":30.8},{"s":"h21","f":3e10,"g":29.6},{"s":"h21","f":3.2e10,"g":30.3},{"s":"h21","f":3.4e10,"g":28.4},{"s":"h21","f":3.6e10,"g":29.1},{"s":"h21","f":3.8e10,"g":27.2},{"s":"h21","f":4e10,"g":26.5},
    {"s":"U","f":1e9,"g":33.2},{"s":"U","f":1.2e9,"g":33.0},{"s":"U","f":1.4e9,"g":33.3},{"s":"U","f":1.6e9,"g":32.9},{"s":"U","f":1.8e9,"g":33.5},{"s":"U","f":2e9,"g":35.0},{"s":"U","f":2.2e9,"g":35.3},{"s":"U","f":2.5e9,"g":36.0},{"s":"U","f":2.7e9,"g":38.0},{"s":"U","f":2.85e9,"g":41.5},{"s":"U","f":2.95e9,"g":43.9},{"s":"U","f":3.05e9,"g":42.0},{"s":"U","f":3.2e9,"g":40.0},{"s":"U","f":3.5e9,"g":38.8},{"s":"U","f":4e9,"g":37.5},{"s":"U","f":4.5e9,"g":36.5},{"s":"U","f":5e9,"g":35.7},{"s":"U","f":5.5e9,"g":34.9},{"s":"U","f":6e9,"g":36.0},{"s":"U","f":6.5e9,"g":35.2},{"s":"U","f":7e9,"g":34.4},{"s":"U","f":7.5e9,"g":34.6},{"s":"U","f":8e9,"g":35.0},{"s":"U","f":9e9,"g":34.2},{"s":"U","f":1e10,"g":33.8},{"s":"U","f":1.2e10,"g":33.5},{"s":"U","f":1.4e10,"g":32.6},{"s":"U","f":1.6e10,"g":31.3},{"s":"U","f":1.8e10,"g":31.8},{"s":"U","f":2e10,"g":29.6},{"s":"U","f":2.2e10,"g":30.3},{"s":"U","f":2.5e10,"g":28.6},{"s":"U","f":2.8e10,"g":29.2},{"s":"U","f":3e10,"g":27.5},{"s":"U","f":3.2e10,"g":28.5},{"s":"U","f":3.4e10,"g":25.8},{"s":"U","f":3.6e10,"g":27.5},{"s":"U","f":3.8e10,"g":24.6},{"s":"U","f":4e10,"g":24.2}
  ],
  "fext": [{"f":1e9,"g":55.6},{"f":6.01e11,"g":0}],
  "fext2": [{"f":4e10,"g":23.5},{"f":5.93e11,"g":0}],
  "none": []
},
"spacing": 19,
"resolve": {"scale": {"color": "independent", "shape": "independent", "strokeDash": "independent"}, "legend": {"color": "independent", "shape": "independent"}},
"vconcat": [
 {"hconcat": [
  {"width": 189, "height": 151, "title": {"text": "a", "dx": -33},
   "encoding": {
    "x": {"field": "v", "type": "quantitative", "scale": {"domain": [-1, 0.4], "nice": false, "zero": false},
          "axis": {"title": "VGS (V)", "labelOverlap": false, "values": [-1,-0.9,-0.8,-0.7,-0.6,-0.5,-0.4,-0.3,-0.2,-0.1,0,0.1,0.2,0.3,0.4], "labelExpr": "round(datum.value*10) % 2 != 0 ? '' : replace(format(datum.value, '.1f'), '−', '-')", "tickSize": {"condition": {"test": "round(datum.value*10) % 2 != 0", "value": 1.5}, "value": 3}}},
    "y": {"field": "i", "type": "quantitative", "scale": {"type": "log", "domain": [1e-9, 1e-3], "nice": false},
          "axis": {"title": "ID (A μm⁻¹)", "labelOverlap": false, "values": [1e-9,1e-8,1e-7,1e-6,1e-5,1e-4,1e-3], "labelExpr": "'10⁻' + ['⁰','¹','²','³','⁴','⁵','⁶','⁷','⁸','⁹'][-round(log(datum.value)/LN10)]", "titlePadding": 3}}
   },
   "layer": [
    {"data": {"name": "a"}, "mark": {"type": "line", "strokeWidth": 2, "clip": true},
     "encoding": {
      "color": {"field": "t", "type": "nominal", "scale": {"domain": ["300 K", "4 K"], "range": ["#6a6af0", "#22c3bb"]}, "legend": null},
      "strokeDash": {"field": "d", "type": "nominal", "scale": {"domain": ["100", "50"], "range": [[1, 0], [4, 2.5]]}, "legend": null}
     }},
    {"data": {"values": [{"v": 0.065, "i": 9e-8, "t": "300 K"}, {"v": 0.065, "i": 3.2e-8, "t": "4 K"}]}, "mark": {"type": "text"},
     "encoding": {"text": {"field": "t"}, "color": {"field": "t", "type": "nominal", "legend": null}}},
    {"data": {"values": [{"v": -0.935, "i": 2.9e-9}]}, "mark": {"type": "text", "text": "V", "fontStyle": "italic"}},
    {"data": {"values": [{"v": -0.935, "i": 2.9e-9}]}, "mark": {"type": "text", "text": "DS", "fontSize": 7, "dx": 6.5, "dy": 3}},
    {"data": {"values": [{"v": -0.935, "i": 2.9e-9}]}, "mark": {"type": "text", "text": "= 50, 100 mV", "dx": 18.5}}
   ]},
  {"width": 12, "height": 151, "data": {"name": "none"}, "mark": {"type": "point"}, "encoding": {}},
  {"width": 186, "height": 151, "title": {"text": "b", "dx": -32},
   "encoding": {
    "x": {"field": "v", "type": "quantitative", "scale": {"domain": [-1, 0.4], "nice": false, "zero": false},
          "axis": {"title": "VGS (V)", "labelOverlap": false, "values": [-1,-0.9,-0.8,-0.7,-0.6,-0.5,-0.4,-0.3,-0.2,-0.1,0,0.1,0.2,0.3,0.4], "labelExpr": "round(datum.value*10) % 2 != 0 ? '' : replace(format(datum.value, '.1f'), '−', '-')", "tickSize": {"condition": {"test": "round(datum.value*10) % 2 != 0", "value": 1.5}, "value": 3}}},
    "y": {"field": "g", "type": "quantitative", "scale": {"domain": [0, 1], "nice": false},
          "axis": {"title": "gₘ (S mm⁻¹)", "labelOverlap": false, "values": [0,0.1,0.2,0.3,0.4,0.5,0.6,0.7,0.8,0.9,1], "labelExpr": "round(datum.value*10) % 2 != 0 ? '' : format(datum.value, '.1f')", "tickSize": {"condition": {"test": "round(datum.value*10) % 2 != 0", "value": 1.5}, "value": 3}, "titlePadding": 6}}
   },
   "layer": [
    {"data": {"name": "b"}, "mark": {"type": "line", "strokeWidth": 2, "clip": true},
     "encoding": {
      "color": {"field": "t", "type": "nominal", "scale": {"domain": ["300 K", "4 K"], "range": ["#6a6af0", "#22c3bb"]}, "legend": null},
      "strokeDash": {"field": "d", "type": "nominal", "scale": {"domain": ["100", "50"], "range": [[1, 0], [4, 2.5]]}, "legend": null}
     }},
    {"data": {"values": [{"v": 0.066, "g": 0.68, "t": "300 K"}, {"v": 0.066, "g": 0.61, "t": "4 K"}]}, "mark": {"type": "text"},
     "encoding": {"text": {"field": "t"}, "color": {"field": "t", "type": "nominal", "legend": null}}},
    {"data": {"values": [{"v": -0.92, "g": 0.93}]}, "mark": {"type": "text", "text": "V", "fontStyle": "italic"}},
    {"data": {"values": [{"v": -0.92, "g": 0.93}]}, "mark": {"type": "text", "text": "DS", "fontSize": 7, "dx": 6.5, "dy": 3}},
    {"data": {"values": [{"v": -0.92, "g": 0.93}]}, "mark": {"type": "text", "text": "= 50, 100 mV", "dx": 18.5}}
   ]},
  {"width": 4, "height": 151, "data": {"name": "none"}, "mark": {"type": "point"}, "encoding": {}},
  {"width": 189, "height": 151, "title": {"text": "c", "dx": -36},
   "encoding": {
    "x": {"field": "x", "type": "quantitative", "scale": {"domain": [0, 0.7], "nice": false},
          "axis": {"title": "VDS (V)", "labelOverlap": false, "values": [0,0.05,0.1,0.15,0.2,0.25,0.3,0.35,0.4,0.45,0.5,0.55,0.6,0.65,0.7], "labelExpr": "round(datum.value*20) % 2 != 0 ? '' : format(datum.value, '.1f')", "tickSize": {"condition": {"test": "round(datum.value*20) % 2 != 0", "value": 1.5}, "value": 3}}},
    "y": {"field": "y", "type": "quantitative", "scale": {"domain": [0, 1400], "nice": false},
          "axis": {"title": "ID (mA mm⁻¹)", "labelOverlap": false, "values": [0,100,200,300,400,500,600,700,800,900,1000,1100,1200,1300,1400], "labelExpr": "round(datum.value/100) % 2 != 0 ? '' : format(datum.value, 'd')", "tickSize": {"condition": {"test": "round(datum.value/100) % 2 != 0", "value": 1.5}, "value": 3}, "titlePadding": 4}}
   },
   "layer": [
    {"data": {"name": "c"}, "mark": {"type": "line", "strokeWidth": 1.5, "interpolate": "monotone", "clip": true},
     "encoding": {
      "color": {"field": "t", "type": "nominal", "scale": {"domain": ["300 K", "4 K"], "range": ["#6a6af0", "#22c3bb"]}, "legend": null},
      "detail": {"field": "s", "type": "nominal"}
     }},
    {"data": {"values": [{"x": 0.122, "y": 991, "t": "300 K"}, {"x": 0.122, "y": 898, "t": "4 K"}]}, "mark": {"type": "text", "fontSize": 9.5},
     "encoding": {"text": {"field": "t"}, "color": {"field": "t", "type": "nominal", "legend": null}}},
    {"data": {"values": [{"x": 0.088, "y": 1298}]}, "mark": {"type": "text", "text": "V", "fontStyle": "italic", "fontSize": 9.5}},
    {"data": {"values": [{"x": 0.088, "y": 1298}]}, "mark": {"type": "text", "text": "GS", "fontSize": 6.5, "dx": 6.5, "dy": 3}},
    {"data": {"values": [{"x": 0.088, "y": 1298}]}, "mark": {"type": "text", "text": "= -0.7 V to 0.3 V", "fontSize": 9.5, "dx": 17.5}},
    {"data": {"values": [{"x": 0.088, "y": 1193}]}, "mark": {"type": "text", "text": "(step: 0.1 V)", "fontSize": 9.5}}
   ]}
 ], "spacing": 16, "bounds": "flush",
 "resolve": {"scale": {"color": "independent", "shape": "independent", "strokeDash": "independent"}}},
 {"hconcat": [
  {"width": 191, "height": 151, "title": {"text": "d", "dx": -33, "offset": 2},
   "data": {"name": "d"},
   "mark": {"type": "point", "filled": true, "size": 16, "opacity": 1, "clip": true},
   "encoding": {
    "x": {"field": "x", "type": "quantitative", "scale": {"domain": [-10, 130], "nice": false, "zero": false},
          "axis": {"title": "ID (mA mm⁻¹)", "labelOverlap": false, "values": [-10,0,10,20,30,40,50,60,70,80,90,100,110,120,130], "labelExpr": "round(datum.value/10) % 2 != 0 ? '' : format(datum.value, 'd')", "tickSize": {"condition": {"test": "round(datum.value/10) % 2 != 0", "value": 1.5}, "value": 3}}},
    "y": {"field": "y", "type": "quantitative", "scale": {"domain": [0, 1], "nice": false},
          "axis": {"title": "√ID gₘ⁻¹ (√V·mm S⁻¹)", "labelOverlap": false, "values": [0,0.1,0.2,0.3,0.4,0.5,0.6,0.7,0.8,0.9,1], "labelExpr": "round(datum.value*10) % 2 != 0 ? '' : format(datum.value, '.1f')", "tickSize": {"condition": {"test": "round(datum.value*10) % 2 != 0", "value": 1.5}, "value": 3}, "titlePadding": 7}},
    "color": {"field": "s", "type": "nominal", "scale": {"domain": ["300 K, 50 mV", "300 K, 100 mV", "4 K, 50 mV", "4 K, 100 mV"], "range": ["#6a6af0", "#6a6af0", "#22c3bb", "#22c3bb"]},
              "legend": {"title": null, "orient": "bottom-right", "offset": 4, "labelFont": "Liberation Sans", "labelFontSize": 8.5, "labelColor": "#222", "symbolSize": 22, "rowPadding": 0.5, "symbolStrokeWidth": 0}},
    "shape": {"field": "s", "type": "nominal", "scale": {"domain": ["300 K, 50 mV", "300 K, 100 mV", "4 K, 50 mV", "4 K, 100 mV"], "range": ["triangle-up", "circle", "triangle-up", "circle"]}}
   }},
  {"width": 10, "height": 151, "data": {"name": "none"}, "mark": {"type": "point"}, "encoding": {}},
  {"width": 186, "height": 151, "title": {"text": "e", "dx": -27, "offset": 2},
   "encoding": {
    "x": {"field": "f", "type": "quantitative", "scale": {"type": "log", "domain": [1e9, 8e11], "nice": false},
          "axis": {"title": "Frequency (Hz)", "labelOverlap": false, "values": [1e9,2e9,3e9,4e9,5e9,6e9,7e9,8e9,9e9,1e10,2e10,3e10,4e10,5e10,6e10,7e10,8e10,9e10,1e11,2e11,3e11,4e11,5e11,6e11,7e11,8e11], "labelExpr": "abs(log(datum.value)/LN10 - round(log(datum.value)/LN10)) > 0.001 ? '' : '1E' + round(log(datum.value)/LN10)", "tickSize": {"condition": {"test": "abs(log(datum.value)/LN10 - round(log(datum.value)/LN10)) > 0.001", "value": 1.5}, "value": 3}}},
    "y": {"field": "g", "type": "quantitative", "scale": {"domain": [0, 70], "nice": false},
          "axis": {"title": "Gain (dB)", "labelOverlap": false, "values": [0,5,10,15,20,25,30,35,40,45,50,55,60,65,70], "labelExpr": "round(datum.value/5) % 2 != 0 ? '' : format(datum.value, 'd')", "tickSize": {"condition": {"test": "round(datum.value/5) % 2 != 0", "value": 1.5}, "value": 3}, "titlePadding": 5}}
   },
   "layer": [
    {"data": {"name": "e"}, "mark": {"type": "line", "strokeWidth": 2.2, "clip": true},
     "encoding": {"color": {"field": "s", "type": "nominal", "scale": {"domain": ["h21", "U"], "range": ["#5a6cf0", "#b46cf0"]}, "legend": null}}},
    {"data": {"name": "eext"}, "mark": {"type": "line", "strokeWidth": 1.5, "strokeDash": [3, 3], "color": "#b46cf0"}},
    {"data": {"values": [{"f": 4.7e9, "g": 45.3, "s": "h21", "l": "|h₂₁|²"}, {"f": 1.55e9, "g": 34.5, "s": "U", "l": "U"}]}, "mark": {"type": "text"},
     "encoding": {"text": {"field": "l"}, "color": {"field": "s", "type": "nominal", "legend": null}}},
    {"data": {"values": [{"f": 1.48e9, "g": 12}, {"f": 1.48e9, "g": 6.2}]}, "mark": {"type": "text", "text": "f", "fontStyle": "italic"}},
    {"data": {"values": [{"f": 1.48e9, "g": 12}]}, "mark": {"type": "text", "text": "T", "fontSize": 7, "dx": 3.5, "dy": 3}},
    {"data": {"values": [{"f": 1.48e9, "g": 12}]}, "mark": {"type": "text", "text": "= 489 GHz", "dx": 10}},
    {"data": {"values": [{"f": 1.48e9, "g": 6.2}]}, "mark": {"type": "text", "text": "MAX", "fontSize": 7, "dx": 3.5, "dy": 3}},
    {"data": {"values": [{"f": 1.48e9, "g": 6.2}]}, "mark": {"type": "text", "text": "= 474 GHz", "dx": 19}}
   ]},
  {"width": 4, "height": 151, "data": {"name": "none"}, "mark": {"type": "point"}, "encoding": {}},
  {"width": 189, "height": 151, "title": {"text": "f", "dx": -36, "offset": 2},
   "encoding": {
    "x": {"field": "f", "type": "quantitative", "scale": {"type": "log", "domain": [1e9, 8e11], "nice": false},
          "axis": {"title": "Frequency (Hz)", "labelOverlap": false, "values": [1e9,2e9,3e9,4e9,5e9,6e9,7e9,8e9,9e9,1e10,2e10,3e10,4e10,5e10,6e10,7e10,8e10,9e10,1e11,2e11,3e11,4e11,5e11,6e11,7e11,8e11], "labelExpr": "abs(log(datum.value)/LN10 - round(log(datum.value)/LN10)) > 0.001 ? '' : '1E' + round(log(datum.value)/LN10)", "tickSize": {"condition": {"test": "abs(log(datum.value)/LN10 - round(log(datum.value)/LN10)) > 0.001", "value": 1.5}, "value": 3}}},
    "y": {"field": "g", "type": "quantitative", "scale": {"domain": [0, 70], "nice": false},
          "axis": {"title": "Gain (dB)", "labelOverlap": false, "values": [0,5,10,15,20,25,30,35,40,45,50,55,60,65,70], "labelExpr": "round(datum.value/5) % 2 != 0 ? '' : format(datum.value, 'd')", "tickSize": {"condition": {"test": "round(datum.value/5) % 2 != 0", "value": 1.5}, "value": 3}, "titlePadding": 5}}
   },
   "layer": [
    {"data": {"name": "fext"}, "mark": {"type": "line", "strokeWidth": 1.2, "strokeDash": [3, 2], "color": "#22c3bb", "clip": true}},
    {"data": {"name": "fext2"}, "mark": {"type": "line", "strokeWidth": 1, "color": "#1b8ff2"}},
    {"data": {"name": "f"}, "mark": {"type": "line", "strokeWidth": 2.2, "clip": true},
     "encoding": {"color": {"field": "s", "type": "nominal", "scale": {"domain": ["h21", "U"], "range": ["#22c3bb", "#1b8ff2"]}, "legend": null}}},
    {"data": {"values": [{"f": 2.66e9, "g": 53.6, "s": "h21", "l": "|h₂₁|²"}, {"f": 1.43e9, "g": 37.3, "s": "U", "l": "U"}]}, "mark": {"type": "text"},
     "encoding": {"text": {"field": "l"}, "color": {"field": "s", "type": "nominal", "legend": null}}},
    {"data": {"values": [{"f": 1.3e9, "g": 10.9}, {"f": 1.3e9, "g": 5.4}]}, "mark": {"type": "text", "text": "f", "fontStyle": "italic"}},
    {"data": {"values": [{"f": 1.3e9, "g": 10.9}]}, "mark": {"type": "text", "text": "T", "fontSize": 7, "dx": 3.5, "dy": 3}},
    {"data": {"values": [{"f": 1.3e9, "g": 10.9}]}, "mark": {"type": "text", "text": "= 601 GHz", "dx": 10}},
    {"data": {"values": [{"f": 1.3e9, "g": 5.4}]}, "mark": {"type": "text", "text": "MAX", "fontSize": 7, "dx": 3.5, "dy": 3}},
    {"data": {"values": [{"f": 1.3e9, "g": 5.4}]}, "mark": {"type": "text", "text": "= 593 GHz", "dx": 19}}
   ]}
 ], "spacing": 16, "bounds": "flush",
 "resolve": {"scale": {"color": "independent", "shape": "independent", "strokeDash": "independent"}, "legend": {"color": "independent", "shape": "independent"}}}
]
}
